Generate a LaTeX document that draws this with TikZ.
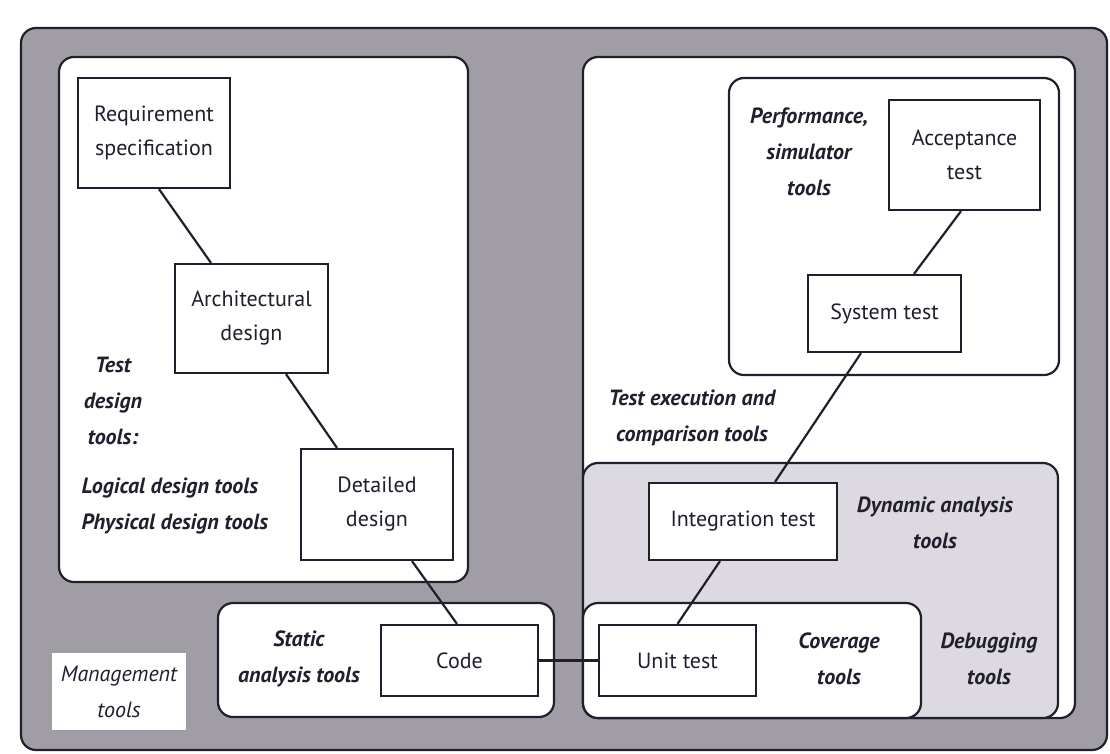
\documentclass[tikz,border=0pt]{standalone}
\usepackage{fontspec}
\setmainfont{PT Sans}
\definecolor{ink}{HTML}{221E2E}
\definecolor{screen}{HTML}{A09DA5}
\definecolor{pale}{HTML}{DCDAE0}
\begin{document}
\begin{tikzpicture}[x=1pt, y=-1pt,
		b/.style = {rectangle, draw=ink,	fill=white,	line width=2.2pt, align=center, text=ink, font=\fontsize{22}{34}\selectfont},
		t/.style = {align=center, text=ink, font=\fontsize{22}{36}\selectfont\bfseries\itshape},
		rg/.style = {draw=ink, line width=2.2pt, rounded corners=15pt},
		l/.style = {draw=ink, line width=2.2pt},
		]
		\useasboundingbox (0,0) rectangle (1110,753);
		
		% === === Regions === ===
		\draw[rg, fill=screen]	(21,28)		rectangle	(1107,750);
		\draw[rg, fill=white]	(59,57)		rectangle	(468,582);
		\draw[rg, fill=white]	(218,603)	rectangle	(554,717);
		\draw[rg, fill=white]	(583,57)	rectangle	(1075,718);
		\draw[rg, fill=white]	(729,78)	rectangle	(1059,375);
		\draw[rg, fill=pale]	(583,463)	rectangle	(1058,718);
		\draw[rg, fill=white]	(583,603)	rectangle	(921,718);
		
		% === === Nodes === ===
		\node[b, minimum width=152, minimum height=110]	(req)	at	(154, 133)		{Requirement\\specification};
		\node[b, minimum width=153, minimum height=109]	(arch)	at	(251.5, 318.5)	{Architectural\\design};
		\node[b, minimum width=152, minimum height=111]	(det)	at	(377, 504.5)	{Detailed\\design};
		\node[b, minimum width=157, minimum height=71]	(code)	at	(459.5, 660.5)	{Code};
		\node[b, minimum width=157, minimum height=71]	(unit)	at	(677.5, 660.5)	{Unit test};
		\node[b, minimum width=188, minimum height=77]	(integ)	at	(743, 521.5)	{Integration test};
		\node[b, minimum width=153, minimum height=77]	(sys)	at	(884.5, 313.5)	{System test};
		\node[b, minimum width=151, minimum height=110]	(acc)	at	(964.5, 155)	{Acceptance\\test};
		
		\node[b, draw=none, minimum width=134, minimum height=77, font=\fontsize{22}{36}\selectfont\itshape]
											(mgmt)	at	(119, 691.5)	{Management\\tools};
		
		% === === Labels === ===
		\node[t]				(tdt)	at	(113, 401)		{Test\\design\\tools:};
		\node[t, anchor=west, align=left]	(ldt)	at	(78, 506)	{Logical design tools\\Physical design tools};
		\node[t]				(sat)	at	(299, 659)		{Static\\analysis tools};
		\node[t]				(pst)	at	(809, 152)		{Performance,\\simulator\\tools};
		\node[t]				(tec)	at	(692, 418)		{Test execution and\\comparison tools};
		\node[t]				(dat)	at	(935, 523)		{Dynamic analysis\\tools};
		\node[t]				(cvt)	at	(839, 659)		{Coverage\\tools};
		\node[t]				(dbt)	at	(989, 659)		{Debugging\\tools};
		
		% === === Links === ===
		\draw[l]	([xshift=5]req.south)		--	([xshift=-40.5]arch.north);
		\draw[l]	([xshift=34.5]arch.south)	--	([xshift=-40]det.north);
		\draw[l]	([xshift=35]det.south)		--	([xshift=-2.5]code.north);
		\draw[l]	(code.east)					--	(unit.west);
		\draw[l]	(unit.north)				--	([xshift=-23]integ.south);
		\draw[l]	([xshift=32]integ.north)	--	([xshift=-23.5]sys.south);
		\draw[l]	([xshift=29.5]sys.north)	--	([xshift=-3.5]acc.south);
		
	\end{tikzpicture}
\end{document}
